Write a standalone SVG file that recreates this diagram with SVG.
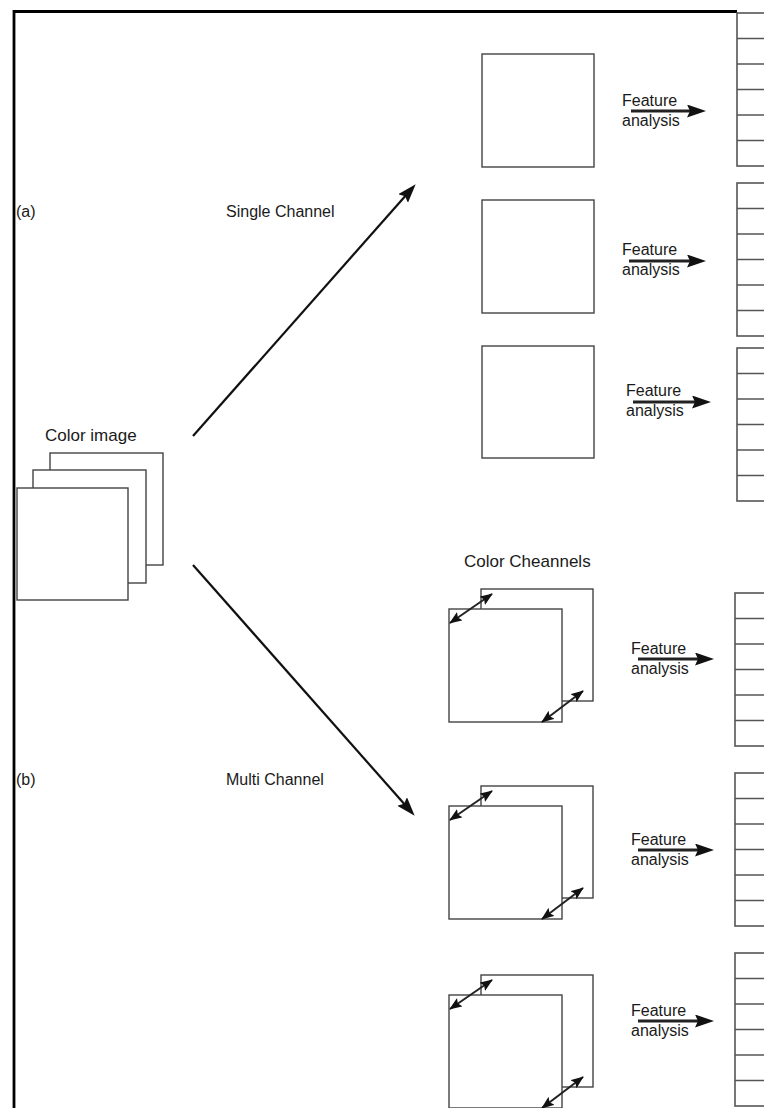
<svg xmlns="http://www.w3.org/2000/svg" width="764" height="1108" viewBox="0 0 764 1108">
<style>
.t{font-family:"Liberation Sans",Arial,sans-serif;font-size:16px;fill:#1a1a1a}
.l{font-size:17px}
.box{fill:#fff;stroke:#444;stroke-width:1.4}
.vec{fill:#fff;stroke:#555;stroke-width:1.6}
.cell{stroke:#555;stroke-width:1.6}
.frame{stroke:#000;stroke-width:2.8;fill:none}
.big{stroke:#111;stroke-width:2.2;fill:none;marker-end:url(#ah)}
.fa{stroke:#222;stroke-width:2.8;fill:none;marker-end:url(#ah)}
.dbl{stroke:#222;stroke-width:2;fill:none;marker-start:url(#sh);marker-end:url(#sh)}
</style>
<defs>
<marker id="ah" markerUnits="userSpaceOnUse" markerWidth="20" markerHeight="14" refX="8" refY="6.5" orient="auto" viewBox="0 0 20 14">
<path d="M0,0 L19,6.5 L0,13 L3,6.5 z" fill="#111"/>
</marker>
<marker id="sh" markerUnits="userSpaceOnUse" markerWidth="16" markerHeight="12" refX="12" refY="5" orient="auto-start-reverse" viewBox="0 0 16 12">
<path d="M0,0 L13,5 L0,10 L2.5,5 z" fill="#111"/>
</marker>
<g id="vecshape">
<rect class="vec" x="0" y="0" width="60" height="153"/>
<line class="cell" x1="0" y1="25.5" x2="60" y2="25.5"/>
<line class="cell" x1="0" y1="51" x2="60" y2="51"/>
<line class="cell" x1="0" y1="76.5" x2="60" y2="76.5"/>
<line class="cell" x1="0" y1="102" x2="60" y2="102"/>
<line class="cell" x1="0" y1="127.5" x2="60" y2="127.5"/>
</g>
<g id="pair">
<rect class="box" x="32" y="0" width="112" height="112"/>
<rect class="box" x="0" y="20" width="113" height="113"/>
<line class="dbl" x1="1" y1="34" x2="43" y2="5"/>
<line class="dbl" x1="93" y1="133" x2="134" y2="102"/>
</g>
</defs>

<g id="frame">
<path class="frame" d="M14,1108 L14,11.5 L737,11.5"/>
</g>

<g id="labels">
<text class="t" x="16" y="217">(a)</text>
<text class="t" x="226" y="217">Single Channel</text>
<text class="t" x="16" y="785">(b)</text>
<text class="t" x="226" y="785">Multi Channel</text>
</g>

<g id="color-image">
<rect class="box" x="50" y="453" width="113" height="112"/>
<rect class="box" x="33" y="470" width="113" height="113"/>
<rect class="box" x="17" y="488" width="111" height="112"/>
<text class="t l" x="45" y="441">Color image</text>
</g>

<g id="single-1">
<rect class="box" x="482" y="54" width="112" height="113"/>
<text class="t" x="622" y="106">Feature</text>
<text class="t" x="622" y="126">analysis</text>
</g>
<g id="vector-1"><use href="#vecshape" x="737" y="13"/></g>

<g id="single-2">
<rect class="box" x="482" y="200" width="112" height="113"/>
<text class="t" x="622" y="255">Feature</text>
<text class="t" x="622" y="275">analysis</text>
</g>
<g id="vector-2"><use href="#vecshape" x="737" y="183"/></g>

<g id="single-3">
<rect class="box" x="482" y="346" width="112" height="112"/>
<text class="t" x="626" y="396">Feature</text>
<text class="t" x="626" y="416">analysis</text>
</g>
<g id="vector-3"><use href="#vecshape" x="737" y="348"/></g>

<g id="channels-label">
<text class="t l" x="464" y="567">Color Cheannels</text>
</g>

<g id="multi-1">
<use href="#pair" x="449" y="589"/>
<text class="t" x="631" y="654">Feature</text>
<text class="t" x="631" y="674">analysis</text>
</g>
<g id="vector-4"><use href="#vecshape" x="735" y="593"/></g>

<g id="multi-2">
<use href="#pair" x="449" y="786"/>
<text class="t" x="631" y="845">Feature</text>
<text class="t" x="631" y="865">analysis</text>
</g>
<g id="vector-5"><use href="#vecshape" x="735" y="773"/></g>

<g id="multi-3">
<use href="#pair" x="449" y="975"/>
<text class="t" x="631" y="1016">Feature</text>
<text class="t" x="631" y="1036">analysis</text>
</g>
<g id="vector-6"><use href="#vecshape" x="735" y="953"/></g>

<g id="connectors">
<line class="big" x1="193" y1="436" x2="408.4" y2="192.5"/>
<line class="big" x1="193" y1="565" x2="407.4" y2="807.5"/>
<line class="fa" x1="631" y1="111" x2="695" y2="111"/>
<line class="fa" x1="629" y1="261" x2="695" y2="261"/>
<line class="fa" x1="633" y1="402" x2="700" y2="402"/>
<line class="fa" x1="638" y1="659" x2="703" y2="659"/>
<line class="fa" x1="638" y1="850" x2="703" y2="850"/>
<line class="fa" x1="638" y1="1021" x2="703" y2="1021"/>
</g>
</svg>
